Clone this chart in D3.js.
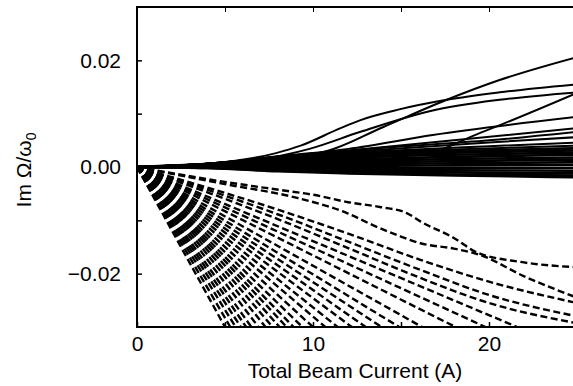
<!DOCTYPE html>
<html>
<head>
<meta charset="utf-8">
<script src="https://cdn.jsdelivr.net/npm/d3@7"></script>
<style>
  body { margin: 0; background: #fff; }
  svg { display: block; }
  text { font-family: "Liberation Sans", Arial, Helvetica, sans-serif; fill: #000; }
</style>
</head>
<body>
<svg id="chart"></svg>
<script>
// Axis ticks
const xTickValues = [0, 5, 10, 15, 20];
const xLabelled = [0, 10, 20];
const yTickValues = [-0.02, -0.01, 0, 0.01, 0.02];
const yLabelled = [-0.02, 0, 0.02];

// Solid curves (growing modes), [current, Im Omega/omega0]
const risingModes = [
  [[0, 0], [4, 0.0006], [8, 0.0018], [10.6, 0.0028], [14, 0.0075], [17.6, 0.0126], [20.6, 0.0163], [25, 0.0206]],
  [[0, 0], [4, 0.0006], [7.9, 0.0026], [9.3, 0.0040], [11.5, 0.0072], [12.7, 0.0088], [14.9, 0.0108], [17.6, 0.0126], [20.6, 0.0140], [25, 0.0155]],
  [[0, 0], [4, 0.0006], [8.3, 0.0022], [9.8, 0.0034], [12.7, 0.0066], [16.8, 0.0106], [20.6, 0.0126], [25, 0.0140]],
  [[0, 0], [4, 0.0005], [10, 0.0015], [16.1, 0.0023], [19.5, 0.0064], [25, 0.0139]],
  [[0, 0], [4, 0.0006], [8, 0.0020], [12, 0.0034], [16.8, 0.0060], [25, 0.0094]],
  [[0, 0], [4, 0.0006], [8, 0.0019], [12, 0.0031], [18, 0.0050], [25, 0.0073]],
  [[0, 0], [4, 0.0006], [9, 0.0022], [14, 0.0036], [20, 0.0050], [25, 0.0066]],
  [[0, 0], [4, 0.0006], [8, 0.0019], [14, 0.0033], [20, 0.0046], [25, 0.0056]],
  [[0, 0], [4, 0.0006], [8, 0.0018], [14, 0.0030], [20, 0.0039], [25, 0.0046]],
  [[0, 0], [4, 0.0006], [10, 0.0022], [16, 0.0031], [25, 0.0040]]
];

// the dense solid band near zero
const bandCurrents = [0, 4, 8, 12, 18, 25];
const bandModes = [
  [0, 0.0006, 0.0017, 0.0024, 0.0030, 0.0035],
  [0, 0.0005, 0.0014, 0.0021, 0.0027, 0.0031],
  [0, 0.0004, 0.0011, 0.0018, 0.0023, 0.0027],
  [0, 0.0003, 0.0009, 0.0014, 0.0019, 0.0023],
  [0, 0.0003, 0.0007, 0.0011, 0.0015, 0.0018],
  [0, 0.0002, 0.0005, 0.0008, 0.0011, 0.0014],
  [0, 0.0001, 0.0003, 0.0005, 0.0007, 0.0009],
  [0, 0.0001, 0.0001, 0.0002, 0.0003, 0.0004],
  [0, 0.0000, -0.0001, -0.0002, -0.0002, -0.0002],
  [0, -0.0001, -0.0003, -0.0005, -0.0006, -0.0007],
  [0, -0.0001, -0.0005, -0.0008, -0.0010, -0.0012],
  [0, -0.0002, -0.0007, -0.0010, -0.0014, -0.0016],
  [0, -0.0002, -0.0008, -0.0012, -0.0016, -0.0019]
];

// Dashed (damped) modes: straight ones given by the current where they reach -0.03
const dampedEnds = [5.0, 5.3, 5.6, 5.9, 6.2, 6.5, 6.9, 7.3, 7.7, 8.1, 8.5, 8.9, 9.4,
                    10.0, 10.7, 11.4, 12.2, 13.0, 13.9, 14.9, 16.2, 18.1, 19.8, 21.6];
const dampedFloor = -0.03;
const dampedCurves = [
  [[0, 0], [5, -0.0028], [8.1, -0.0043], [10, -0.0052], [12, -0.0066], [13.8, -0.0075], [15.3, -0.0086], [16.1, -0.0102], [18, -0.0133], [19.3, -0.0160], [21.8, -0.0178], [25, -0.0188]],
  [[0, 0], [5, -0.0032], [9.1, -0.0058], [11.9, -0.0086], [13.4, -0.0109], [14.8, -0.0128], [16.1, -0.0143], [18, -0.0153], [19.5, -0.0165], [22, -0.0205], [25, -0.0245]],
  [[0, 0], [8.1, -0.0081], [12, -0.0125], [16.1, -0.0174], [20, -0.0215], [25, -0.0255]],
  [[0, 0], [8.1, -0.0090], [12, -0.0140], [16.1, -0.0193], [20, -0.0240], [25, -0.0280]],
  [[0, 0], [8.1, -0.0099], [12, -0.0152], [16.1, -0.0208], [20, -0.0255], [25, -0.0293]]
];

const width = 573, height = 386;
const plot = {left: 137, top: 7, right: 577, bottom: 327};

const svg = d3.select("#chart")
  .attr("width", width)
  .attr("height", height);

const x = d3.scaleLinear().domain([0, 25]).range([plot.left, plot.right]);
const y = d3.scaleLinear().domain([-0.03, 0.03]).range([plot.bottom, plot.top]);

svg.append("clipPath").attr("id", "clip")
  .append("rect")
  .attr("x", plot.left).attr("y", plot.top)
  .attr("width", plot.right - plot.left).attr("height", plot.bottom - plot.top);

const line = d3.line()
  .x(d => x(d[0]))
  .y(d => y(d[1]))
  .curve(d3.curveMonotoneX);

const g = svg.append("g").attr("clip-path", "url(#clip)");

// dashed fan
const straight = dampedEnds.map(e => [[0, 0], [e, dampedFloor]]);
g.selectAll(".damped")
  .data(straight.concat(dampedCurves))
  .enter().append("path")
    .attr("class", "damped")
    .attr("d", line)
    .style("fill", "none")
    .style("stroke", "#000")
    .style("stroke-width", 2.4)
    .style("stroke-dasharray", "7,3.5");

// solid band + rising modes
const band = bandModes.map(vals => vals.map((v, i) => [bandCurrents[i], v]));
g.selectAll(".band")
  .data(band)
  .enter().append("path")
    .attr("class", "band")
    .attr("d", line)
    .style("fill", "none")
    .style("stroke", "#000")
    .style("stroke-width", 2.6);

g.selectAll(".rising")
  .data(risingModes)
  .enter().append("path")
    .attr("class", "rising")
    .attr("d", line)
    .style("fill", "none")
    .style("stroke", "#000")
    .style("stroke-width", 2);

// frame
svg.append("path")
  .attr("d", `M${plot.right},${plot.top}H${plot.left}V${plot.bottom}H${plot.right}`)
  .style("fill", "none").style("stroke", "#000").style("stroke-width", 2);

const fmtY = d => yLabelled.includes(d) ? (d < 0 ? "\u2212" : "") + Math.abs(d).toFixed(2) : "";
const fmtX = d => xLabelled.includes(d) ? String(d) : "";

const yAxis = svg.append("g")
  .attr("transform", `translate(${plot.left},0)`)
  .call(d3.axisLeft(y).tickValues(yTickValues).tickSize(-5).tickPadding(16).tickFormat(fmtY));

const xAxis = svg.append("g")
  .attr("transform", `translate(0,${plot.bottom})`)
  .call(d3.axisBottom(x).tickValues(xTickValues).tickSize(-5).tickPadding(9).tickFormat(fmtX));

svg.append("g")
  .attr("transform", `translate(0,${plot.top})`)
  .call(d3.axisTop(x).tickValues(xTickValues.slice(1)).tickSize(-5).tickFormat(""));

[yAxis, xAxis].forEach(a => {
  a.selectAll(".tick line").style("stroke-width", 1.5);
  a.selectAll("text")
    .style("font-family", '"Liberation Sans", Arial, sans-serif')
    .style("font-size", "21px");
});
svg.selectAll(".domain").remove();

// axis titles
svg.append("text")
  .attr("x", (plot.left + width) / 2)
  .attr("y", 378)
  .attr("text-anchor", "middle")
  .style("font-size", "21px")
  .text("Total Beam Current (A)");

const yl = svg.append("text")
  .attr("transform", "translate(31,170) rotate(-90)")
  .attr("text-anchor", "middle")
  .style("font-size", "21px");
yl.append("tspan").text("Im \u03A9/\u03C9");
yl.append("tspan").attr("dy", 5).style("font-size", "14px").text("0");
</script>
</body>
</html>
